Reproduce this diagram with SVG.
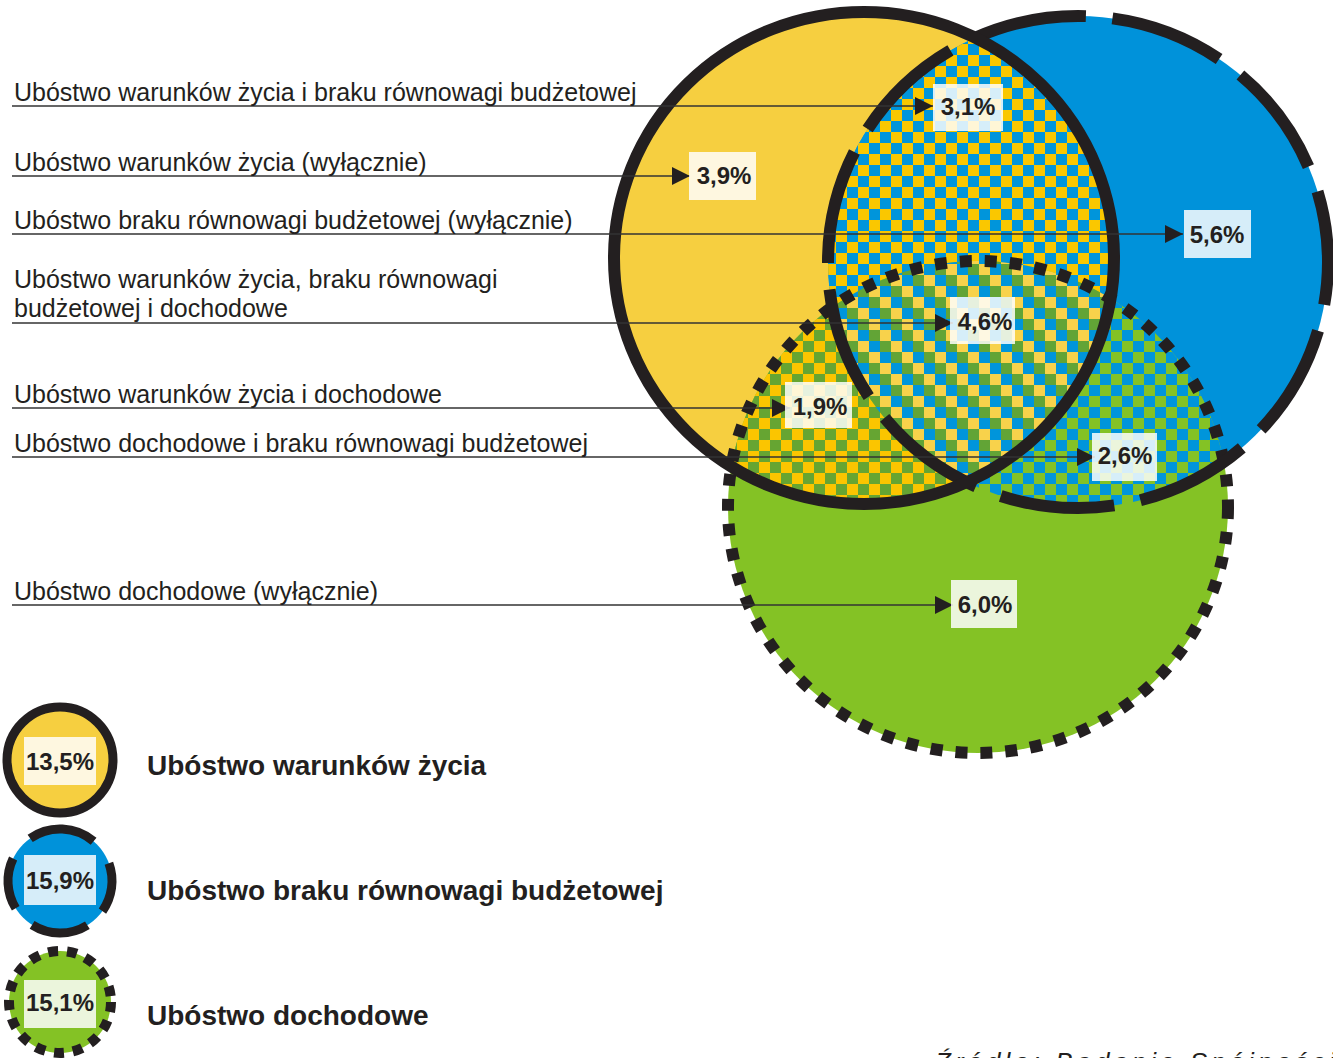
<svg xmlns="http://www.w3.org/2000/svg" width="1333" height="1058" viewBox="0 0 1333 1058">
<style>
.lbl{font-family:"Liberation Sans",Arial,sans-serif;font-size:25px;fill:#231F20}
.val{font-family:"Liberation Sans",Arial,sans-serif;font-size:24px;font-weight:bold;fill:#231F20;text-anchor:middle}
.leg{font-family:"Liberation Sans",Arial,sans-serif;font-size:28px;font-weight:bold;fill:#231F20}
.box{fill:#FFFFFF;fill-opacity:0.84}
.conn{stroke:#333333;stroke-width:1.3;fill:none}
.oA{fill:none;stroke:#231F20;stroke-width:12}
.oB{fill:none;stroke:#231F20;stroke-width:12;stroke-dasharray:115 26.65;stroke-dashoffset:72}
.oC{fill:none;stroke:#231F20;stroke-width:12;stroke-dasharray:12 13}
</style>
<defs>
<marker id="arr" markerWidth="18" markerHeight="18" refX="18" refY="9" orient="auto" markerUnits="userSpaceOnUse">
<path d="M0,0 L18,9 L0,18 Z" fill="#231F20"/>
</marker>
<clipPath id="cA"><ellipse cx="864" cy="258" rx="250" ry="246"/></clipPath>
<clipPath id="cB"><ellipse cx="1078" cy="262" rx="250" ry="246"/></clipPath>
<clipPath id="cC"><ellipse cx="978" cy="507" rx="250" ry="246"/></clipPath>
<pattern id="pAB" width="22" height="22" patternUnits="userSpaceOnUse">
<rect width="22" height="22" fill="#FAC700"/><rect width="11" height="11" fill="#0095DB"/><rect x="11" y="11" width="11" height="11" fill="#0095DB"/>
</pattern>
<pattern id="pAC" width="22" height="22" patternUnits="userSpaceOnUse">
<rect width="22" height="22" fill="#FBC500"/><rect width="11" height="11" fill="#66A532"/><rect x="11" y="11" width="11" height="11" fill="#66A532"/>
</pattern>
<pattern id="pBC" width="22" height="22" patternUnits="userSpaceOnUse">
<rect width="22" height="22" fill="#84C225"/><rect width="11" height="11" fill="#0095DB"/><rect x="11" y="11" width="11" height="11" fill="#0095DB"/>
</pattern>
<pattern id="pABC" width="33" height="33" patternUnits="userSpaceOnUse">
<rect width="33" height="33" fill="#F8D24B"/>
<rect x="0" y="0" width="11" height="11" fill="#0095DB"/><rect x="11" y="11" width="11" height="11" fill="#0095DB"/><rect x="22" y="22" width="11" height="11" fill="#0095DB"/>
<rect x="11" y="0" width="11" height="11" fill="#62A436"/><rect x="22" y="11" width="11" height="11" fill="#62A436"/><rect x="0" y="22" width="11" height="11" fill="#62A436"/>
</pattern>
</defs>

<g id="venn-fills">
<ellipse cx="864" cy="258" rx="250" ry="246" fill="#F6CF40"/>
<ellipse cx="1078" cy="262" rx="250" ry="246" fill="#0092DA"/>
<ellipse cx="978" cy="507" rx="250" ry="246" fill="#84C225"/>
<g clip-path="url(#cA)"><rect x="600" y="0" width="733" height="760" fill="url(#pAB)" clip-path="url(#cB)"/></g>
<g clip-path="url(#cA)"><rect x="600" y="0" width="733" height="760" fill="url(#pAC)" clip-path="url(#cC)"/></g>
<g clip-path="url(#cB)"><rect x="600" y="0" width="733" height="760" fill="url(#pBC)" clip-path="url(#cC)"/></g>
<g clip-path="url(#cA)"><g clip-path="url(#cB)"><rect x="600" y="0" width="733" height="760" fill="url(#pABC)" clip-path="url(#cC)"/></g></g>
</g>

<g id="venn-outlines">
<ellipse id="outline-C" class="oC" cx="978" cy="507" rx="250" ry="246"/>
<ellipse id="outline-B" class="oB" cx="1078" cy="262" rx="250" ry="246"/>
<ellipse id="outline-A" class="oA" cx="864" cy="258" rx="250" ry="246"/>
</g>

<g id="connectors">
<line class="conn" x1="12" y1="106" x2="933" y2="106" marker-end="url(#arr)"/>
<line class="conn" x1="12" y1="176" x2="690" y2="176" marker-end="url(#arr)"/>
<line class="conn" x1="12" y1="234" x2="1183" y2="234" marker-end="url(#arr)"/>
<line class="conn" x1="12" y1="323" x2="953" y2="323" marker-end="url(#arr)"/>
<line class="conn" x1="12" y1="408" x2="790" y2="408" marker-end="url(#arr)"/>
<line class="conn" x1="12" y1="457" x2="1095" y2="457" marker-end="url(#arr)"/>
<line class="conn" x1="12" y1="605" x2="953" y2="605" marker-end="url(#arr)"/>
</g>

<g id="labels-left">
<text class="lbl" x="14" y="101">Ubóstwo warunków życia i braku równowagi budżetowej</text>
<text class="lbl" x="14" y="171">Ubóstwo warunków życia (wyłącznie)</text>
<text class="lbl" x="14" y="229">Ubóstwo braku równowagi budżetowej (wyłącznie)</text>
<text class="lbl" x="14" y="288">Ubóstwo warunków życia, braku równowagi</text>
<text class="lbl" x="14" y="317">budżetowej i dochodowe</text>
<text class="lbl" x="14" y="403">Ubóstwo warunków życia i dochodowe</text>
<text class="lbl" x="14" y="452">Ubóstwo dochodowe i braku równowagi budżetowej</text>
<text class="lbl" x="14" y="600">Ubóstwo dochodowe (wyłącznie)</text>
</g>

<g id="node-AB"><rect class="box" x="933" y="84" width="70" height="47"/><text class="val" x="968" y="115">3,1%</text></g>
<g id="node-A"><rect class="box" x="689" y="152" width="67" height="48"/><text class="val" x="724" y="184">3,9%</text></g>
<g id="node-B"><rect class="box" x="1184" y="210" width="67" height="48"/><text class="val" x="1217" y="243">5,6%</text></g>
<g id="node-ABC"><rect class="box" x="950" y="297" width="65" height="47"/><text class="val" x="985" y="330">4,6%</text></g>
<g id="node-AC"><rect class="box" x="785" y="382" width="67" height="46"/><text class="val" x="820" y="415">1,9%</text></g>
<g id="node-BC"><rect class="box" x="1092" y="433" width="65" height="48"/><text class="val" x="1125" y="464">2,6%</text></g>
<g id="node-C"><rect class="box" x="951" y="580" width="66" height="48"/><text class="val" x="985" y="613">6,0%</text></g>

<g id="legend-A">
<circle cx="60" cy="760" r="53" fill="#F6CF40" stroke="#231F20" stroke-width="9"/>
<rect class="box" x="24" y="737" width="72" height="48"/>
<text class="val" x="60" y="770">13,5%</text>
<text class="leg" x="147" y="775">Ubóstwo warunków życia</text>
</g>
<g id="legend-B">
<circle cx="60" cy="881" r="52" fill="#0092DA"/>
<circle cx="60" cy="881" r="52" fill="none" stroke="#231F20" stroke-width="9" stroke-dasharray="68.1 27.2 49.9 20.9 58.1 23.6 51.7 27.2" transform="rotate(-125 60 881)"/>
<rect class="box" x="24" y="855" width="72" height="50"/>
<text class="val" x="60" y="889">15,9%</text>
<text class="leg" x="147" y="900">Ubóstwo braku równowagi budżetowej</text>
</g>
<g id="legend-C">
<circle cx="60" cy="1002" r="51" fill="#84C225"/>
<circle cx="60" cy="1002" r="51" fill="none" stroke="#231F20" stroke-width="10" stroke-dasharray="10 9"/>
<rect class="box" x="24" y="980" width="72" height="48"/>
<text class="val" x="60" y="1011">15,1%</text>
<text class="leg" x="147" y="1025">Ubóstwo dochodowe</text>
</g>

<text id="source" x="935" y="1071" font-family="Liberation Sans, Arial, sans-serif" font-size="26" font-style="italic" letter-spacing="4" fill="#231F20">Źródło: Badanie Spójności</text>
</svg>
